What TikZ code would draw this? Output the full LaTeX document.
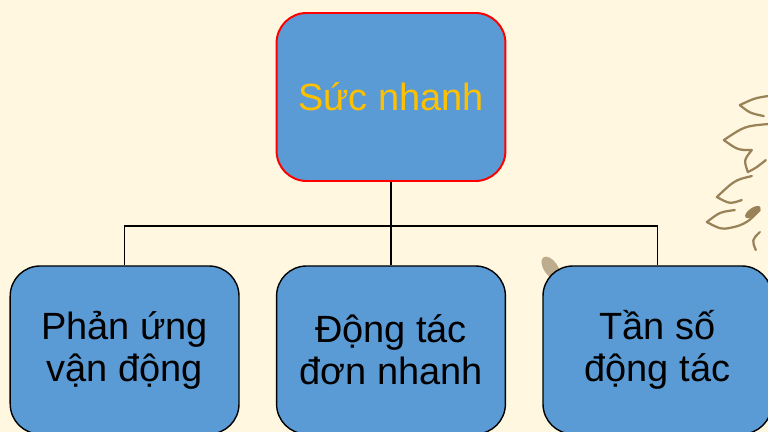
\documentclass[tikz,border=0pt]{standalone}
\usepackage{fontspec}
\setmainfont{Liberation Sans}
\usepackage{xcolor}
\usepackage{tikz}
\usetikzlibrary{positioning}

\definecolor{paper}{HTML}{FFF7E0}
\definecolor{boxblue}{HTML}{5B9BD5}
\definecolor{titlegold}{HTML}{FFC000}
\definecolor{petalbrown}{HTML}{9A8258}

\begin{document}
\begin{tikzpicture}[
		block/.style={draw=black, line width=1pt, fill=boxblue, rounded corners=0.75cm,
			minimum width=5.72cm, minimum height=4.2cm, align=center,
			font=\fontsize{27}{30}\selectfont},
		petal/.style={draw=petalbrown, line width=1.6pt, line cap=round, line join=round}
	]
		% Page background
		\useasboundingbox (0,0) rectangle (19.2,10.8);
		\clip (0,0) rectangle (19.2,10.8);
		\fill[paper] (0,0) rectangle (19.2,10.8);
		
		% Sketched flower in the right margin (pixel grid, y down)
		\begin{scope}[x=0.025cm, y=-0.025cm, shift={(0,-432)}]
			\draw[petal] (768,96) .. controls (755,98) .. (740,105) .. controls (750,113) .. (764,116);
			\draw[petal] (768,124) .. controls (745,126) .. (724,140) .. controls (738,150) .. (752,150)
				.. controls (744,160) .. (748,172) .. controls (756,168) .. (766,160);
			\draw[petal] (752,176) .. controls (735,180) .. (717,197) .. controls (730,204) .. (742,200);
			\draw[petal] (735,210) .. controls (720,212) .. (707,222) .. controls (722,230) .. (738,226)
				.. controls (748,222) .. (760,210);
			\draw[petal] (760,232) .. controls (752,240) .. (756,250);
			\fill[petalbrown, rotate around={35:(753,212)}] (753,212) ellipse (9 and 4);
			\fill[petalbrown!80, opacity=0.8, rotate around={35:(551,268)}] (551,268) ellipse (7 and 13);
		\end{scope}
		
		% Draw the top block
		\node (root) [block, draw=red, line width=1.4pt, text=titlegold] at (9.775,8.375) {Sức nhanh};
		
		% Draw the middle block below the top one
		\node (block2) [block, below of=root, node distance=6.325cm] {Động tác\\đơn nhanh};
		
		% Draw the left and right blocks beside the middle one
		\node (block1) [block, left of=block2, node distance=6.66cm] {Phản ứng\\vận động};
		\node (block3) [block, right of=block2, node distance=6.66cm] {Tần số\\động tác};
		
		% Connect the top block to the three blocks
		\coordinate (split) at ([yshift=-1.1cm]root.south);
		\draw[line width=1pt] (root.south) -- (split);
		\draw[line width=1pt] (split) -| (block1.north);
		\draw[line width=1pt] (split) -- (block2.north);
		\draw[line width=1pt] (split) -| (block3.north);
	\end{tikzpicture}
\end{document}
